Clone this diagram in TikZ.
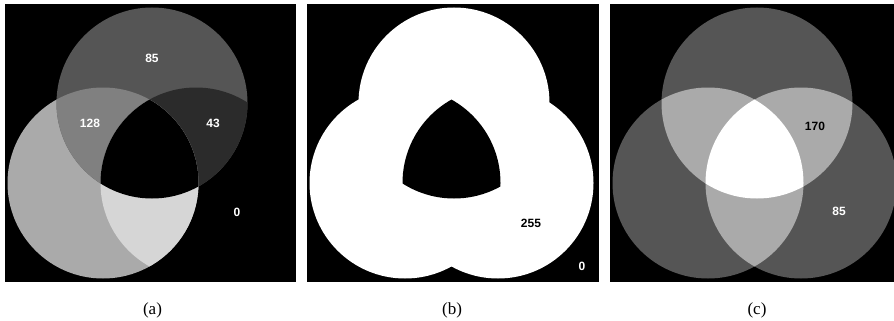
\documentclass[tikz,border=0pt]{standalone}
\usepackage{fontspec}
\setmainfont{Liberation Serif}
\newfontfamily\numfont{Liberation Sans}
\definecolor{gA}{RGB}{85,85,85}
\definecolor{gB}{RGB}{128,128,128}
\definecolor{gC}{RGB}{43,43,43}
\definecolor{gD}{RGB}{170,170,170}
\definecolor{gE}{RGB}{214,214,214}
\tikzset{
  num/.style={font=\numfont\bfseries\fontsize{12}{13}\selectfont, inner sep=0pt},
  wnum/.style={num, text=white},
  bnum/.style={num, text=black},
  captext/.style={font=\fontsize{17}{19}\selectfont, inner sep=0pt},
  panel/.style={fill=black},
}
\begin{document}
\begin{tikzpicture}[x=1pt,y=-1pt]
\useasboundingbox (0,0) rectangle (894,321);
\def\R{95.5}
% ---------- panel (a) ----------
\fill[panel] (5,4) rectangle (296,282);
\begin{scope}
  \clip (5,4) rectangle (296,282);
  \fill[gD] (103,183) circle (\R);
  \fill[gA] (152,103) circle (\R);
  \begin{scope}
    \clip (103,183) circle (\R);
    \fill[gB] (152,103) circle (\R);
  \end{scope}
  \begin{scope}
    \clip (152,103) circle (\R);
    \fill[gC] (196,183) circle (\R);
  \end{scope}
  \begin{scope}
    \clip (103,183) circle (\R);
    \fill[gE] (196,183) circle (\R);
  \end{scope}
  \begin{scope}
    \clip (103,183) circle (\R);
    \clip (152,103) circle (\R);
    \fill[black] (196,183) circle (\R);
  \end{scope}
\end{scope}
\node[wnum] (a85) at (152,58) {85};
\node[wnum] (a128) at (90,123) {128};
\node[wnum] (a43) at (213,123) {43};
\node[wnum] (a0) at (237,212) {0};
\node[captext] (capa) at (152.5,310) {(a)};
% ---------- panel (b) ----------
\fill[panel] (307,4) rectangle (599,282);
\begin{scope}
  \clip (307,4) rectangle (599,282);
  \fill[white] (405,183) circle (\R);
  \fill[white] (454,103) circle (\R);
  \fill[white] (498,183) circle (\R);
  \begin{scope}
    \clip (405,183) circle (\R);
    \clip (454,103) circle (\R);
    \fill[black] (498,183) circle (\R);
  \end{scope}
\end{scope}
\node[bnum] (b255) at (531,223) {255};
\node[wnum] (b0) at (582,266) {0};
\node[captext] (capb) at (452,310) {(b)};
% ---------- panel (c) ----------
\fill[panel] (610,4) rectangle (894,282);
\begin{scope}
  \clip (610,4) rectangle (894,282);
  \fill[gA] (708,183) circle (\R);
  \fill[gA] (757,103) circle (\R);
  \fill[gA] (801,183) circle (\R);
  \begin{scope}
    \clip (708,183) circle (\R);
    \fill[gD] (757,103) circle (\R);
    \fill[gD] (801,183) circle (\R);
  \end{scope}
  \begin{scope}
    \clip (757,103) circle (\R);
    \fill[gD] (801,183) circle (\R);
  \end{scope}
  \begin{scope}
    \clip (708,183) circle (\R);
    \clip (757,103) circle (\R);
    \fill[white] (801,183) circle (\R);
  \end{scope}
\end{scope}
\node[bnum] (c170) at (815,126) {170};
\node[wnum] (c85) at (839,211) {85};
\node[captext] (capc) at (757,310) {(c)};
\end{tikzpicture}
\end{document}
